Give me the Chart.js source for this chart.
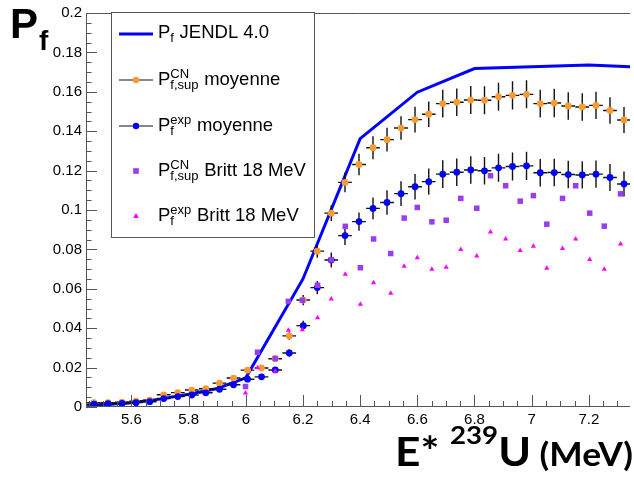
<!DOCTYPE html>
<html><head><meta charset="utf-8">
<script src="https://cdn.jsdelivr.net/npm/chart.js@4.4.1/dist/chart.umd.min.js"></script>
<style>html,body{margin:0;padding:0;background:#fff;overflow:hidden}canvas{display:block}</style>
</head><body>
<canvas id="c" width="634" height="477"></canvas>
<script>
// ---- data ----
const energies = [5.469,5.518,5.567,5.616,5.664,5.713,5.762,5.811,5.860,5.908,5.957,6.006,6.055,6.103,6.152,6.201,6.250,6.299,6.347,6.396,6.445,6.494,6.543,6.592,6.640,6.689,6.738,6.787,6.835,6.884,6.933,6.982,7.030,7.079,7.128,7.177,7.225,7.274,7.323];
const energyHalfBin = 0.024;
const pfCnMoyenne = [0.0022,0.0022,0.0024,0.0030,0.0035,0.0062,0.0073,0.0086,0.0093,0.0121,0.0147,0.0187,0.0198,0.0245,0.0361,0.0543,0.0791,0.0984,0.1140,0.1231,0.1316,0.1357,0.1416,0.1459,0.1486,0.1540,0.1547,0.1558,0.1557,0.1575,0.1582,0.1587,0.1540,0.1543,0.1528,0.1523,0.1531,0.1505,0.1457];
const pfCnMoyenneErr = [0.0004,0.0004,0.0004,0.0005,0.0005,0.0006,0.0006,0.0007,0.0007,0.0008,0.0009,0.0010,0.0011,0.0014,0.0019,0.0026,0.0033,0.0040,0.0050,0.0055,0.0058,0.0060,0.0060,0.0065,0.0065,0.0070,0.0070,0.0071,0.0071,0.0071,0.0072,0.0071,0.0070,0.0072,0.0070,0.0070,0.0069,0.0067,0.0066];
const pfExpMoyenne = [0.0014,0.0017,0.0018,0.0022,0.0027,0.0043,0.0053,0.0061,0.0072,0.0090,0.0113,0.0141,0.0153,0.0188,0.0274,0.0413,0.0606,0.0746,0.0870,0.0941,0.1008,0.1038,0.1083,0.1118,0.1144,0.1182,0.1192,0.1203,0.1199,0.1214,0.1221,0.1224,0.1189,0.1190,0.1180,0.1178,0.1182,0.1165,0.1132];
const pfExpMoyenneErr = [0.0004,0.0004,0.0004,0.0005,0.0005,0.0006,0.0006,0.0007,0.0007,0.0008,0.0009,0.0010,0.0011,0.0014,0.0019,0.0025,0.0034,0.0038,0.0048,0.0046,0.0055,0.0062,0.0063,0.0065,0.0067,0.0070,0.0070,0.0070,0.0070,0.0071,0.0071,0.0072,0.0070,0.0070,0.0070,0.0069,0.0069,0.0068,0.0064];
const brittEnergies = [5.999,6.041,6.103,6.149,6.198,6.251,6.299,6.348,6.401,6.447,6.507,6.554,6.600,6.651,6.701,6.752,6.808,6.856,6.909,6.960,7.006,7.053,7.108,7.154,7.203,7.254,7.311];
const pfCnBritt = [0.0104,0.0278,0.0246,0.0536,0.0542,0.0618,0.0747,0.0917,0.0707,0.0853,0.0779,0.0959,0.1013,0.0940,0.0948,0.1059,0.1009,0.1174,0.1123,0.1045,0.1073,0.0928,0.1059,0.1123,0.0984,0.0918,0.1082];
const pfExpBritt = [0.0071,0.0199,0.0181,0.0390,0.0392,0.0453,0.0548,0.0674,0.0522,0.0631,0.0578,0.0715,0.0757,0.0699,0.0710,0.0799,0.0766,0.0888,0.0853,0.0794,0.0816,0.0704,0.0805,0.0853,0.0749,0.0699,0.0828];
const jendlEnergies = [5.4,5.5,5.6,5.7,5.8,5.9,6.0,6.2,6.4,6.6,6.8,7.0,7.2,7.4];
const jendlPf = [0.0007,0.0012,0.0022,0.0040,0.0065,0.0094,0.0148,0.0650,0.1362,0.1598,0.1718,0.1727,0.1736,0.1724];
const xRange = [5.441, 7.344];
const yRange = [0, 0.2];
const xMajorStep = 0.2, yMajorStep = 0.02;

const pts = (xs, ys) => xs.map((x, i) => ({x, y: ys[i]}));
const fmt = v => String(+Number(v).toFixed(3));

const COL_ORANGE = '#f99a33', COL_BLUE = '#0000ff', COL_PURPLE = '#9a3cf0', COL_MAGENTA = '#ff00ff';
const SANS = '"Liberation Sans", Arial, Helvetica, sans-serif';

const errorBars = {
  id: 'errorBars',
  beforeDatasetDraw(chart, args) {
    const ds = chart.data.datasets[args.index];
    if (!ds.yErr) return;
    const xs = chart.scales.x, ys = chart.scales.y, ctx = chart.ctx, a = chart.chartArea;
    ctx.save();
    ctx.beginPath(); ctx.rect(a.left, a.top, a.right - a.left, a.bottom - a.top); ctx.clip();
    ctx.strokeStyle = '#111'; ctx.lineWidth = 1.4;
    ds.data.forEach((p, i) => {
      const px = xs.getPixelForValue(p.x), py = ys.getPixelForValue(p.y);
      const x0 = xs.getPixelForValue(p.x - ds.xErr), x1 = xs.getPixelForValue(p.x + ds.xErr);
      const y0 = ys.getPixelForValue(p.y - ds.yErr[i]), y1 = ys.getPixelForValue(p.y + ds.yErr[i]);
      ctx.beginPath();
      ctx.moveTo(x0, py); ctx.lineTo(x1, py);
      ctx.moveTo(px, y0); ctx.lineTo(px, y1);
      ctx.stroke();
    });
    ctx.restore();
  }
};

const frame = {
  id: 'frame',
  afterDatasetsDraw(chart) {
    const ctx = chart.ctx, a = chart.chartArea, xs = chart.scales.x, ys = chart.scales.y;
    ctx.save();
    ctx.strokeStyle = '#555'; ctx.lineWidth = 1;
    ctx.beginPath();
    ctx.moveTo(a.left + 0.5, a.bottom); ctx.lineTo(a.left + 0.5, a.top + 0.5); ctx.lineTo(a.right, a.top + 0.5);
    ctx.moveTo(a.left, a.bottom - 0.5); ctx.lineTo(a.right, a.bottom - 0.5);
    ctx.stroke();
    ctx.beginPath();
    const nY = Math.round((yRange[1] - yRange[0]) / (yMajorStep / 4));
    for (let i = 0; i <= nY; i++) {
      const v = yRange[0] + i * yMajorStep / 4;
      const y = Math.round(ys.getPixelForValue(v)) + 0.5;
      const len = (i % 4 === 0) ? 11 : 5.5;
      ctx.moveTo(a.left, y); ctx.lineTo(a.left + len, y);
    }
    const step = xMajorStep / 4;
    const i0 = Math.ceil(xRange[0] / step - 1e-6), i1 = Math.floor(xRange[1] / step + 1e-6);
    for (let i = i0; i <= i1; i++) {
      const v = i * step;
      const x = Math.round(xs.getPixelForValue(v)) + 0.5;
      const len = (i % 4 === 0) ? 12 : 6;
      ctx.moveTo(x, a.bottom); ctx.lineTo(x, a.bottom - len);
    }
    ctx.stroke();
    ctx.restore();
  }
};

function richText(ctx, x, base, main, sup, sub, rest, size, ssize) {
  ctx.fillStyle = '#000';
  ctx.textBaseline = 'alphabetic'; ctx.textAlign = 'left';
  ctx.font = size + 'px ' + SANS;
  ctx.fillText(main, x, base);
  let sx = x + ctx.measureText(main).width;
  ctx.font = ssize + 'px ' + SANS;
  let w = 0;
  if (sup) { ctx.fillText(sup, sx, base - 7); w = Math.max(w, ctx.measureText(sup).width); }
  if (sub) { ctx.fillText(sub, sx, base + 3.5); w = Math.max(w, ctx.measureText(sub).width); }
  ctx.font = size + 'px ' + SANS;
  ctx.fillText(rest, sx + w + 0.5, base);
}

const legendEntries = [
  {sym: 'line', color: COL_BLUE, sup: null, sub: 'f', rest: ' JENDL 4.0'},
  {sym: 'dot', color: COL_ORANGE, sup: 'CN', sub: 'f,sup', rest: ' moyenne'},
  {sym: 'dot', color: COL_BLUE, sup: 'exp', sub: 'f', rest: ' moyenne'},
  {sym: 'rect', color: COL_PURPLE, sup: 'CN', sub: 'f,sup', rest: ' Britt 18 MeV'},
  {sym: 'tri', color: COL_MAGENTA, sup: 'exp', sub: 'f', rest: ' Britt 18 MeV'}
];

const decorations = {
  id: 'decorations',
  afterDraw(chart) {
    const ctx = chart.ctx;
    ctx.save();
    const L = 111, T = 12, R = 314, B = 237;
    ctx.fillStyle = '#fff'; ctx.fillRect(L, T, R - L, B - T);
    ctx.strokeStyle = '#555'; ctx.lineWidth = 1;
    ctx.strokeRect(L + 0.5, T + 0.5, R - L, B - T);
    const rows = [34, 80, 126, 171, 216];
    legendEntries.forEach((e, i) => {
      const cy = rows[i], cx = 136;
      if (e.sym === 'line') {
        ctx.strokeStyle = e.color; ctx.lineWidth = 3;
        ctx.beginPath(); ctx.moveTo(119, cy); ctx.lineTo(153, cy); ctx.stroke();
      } else if (e.sym === 'dot') {
        ctx.strokeStyle = '#111'; ctx.lineWidth = 1.2;
        ctx.beginPath(); ctx.moveTo(119, cy); ctx.lineTo(153, cy); ctx.stroke();
        ctx.fillStyle = e.color; ctx.beginPath(); ctx.arc(cx, cy, 3.2, 0, Math.PI * 2); ctx.fill();
      } else if (e.sym === 'rect') {
        ctx.fillStyle = e.color; ctx.fillRect(cx - 2.8, cy - 2.8, 5.6, 5.6);
      } else {
        ctx.fillStyle = e.color; ctx.beginPath();
        ctx.moveTo(cx, cy - 3); ctx.lineTo(cx + 2.8, cy + 2); ctx.lineTo(cx - 2.8, cy + 2); ctx.closePath(); ctx.fill();
      }
      richText(ctx, 158, cy + 4 + (e.sup ? 1 : 0), 'P', e.sup, e.sub, e.rest, 18.5, 13);
    });
    // y title
    ctx.fillStyle = '#000'; ctx.textAlign = 'left'; ctx.textBaseline = 'alphabetic';
    ctx.font = 'bold 42px ' + SANS; ctx.fillText('P', 10, 38);
    ctx.font = 'bold 28px ' + SANS; ctx.fillText('f', 39, 50);
    // x title (stretched horizontally to the reference's extent 395..633)
    const parts = [
      {t: 'E* ', f: 'bold 40px Lato, "Open Sans", sans-serif', dy: 0},
      {t: '239', f: 'bold 25px Lato, "Open Sans", sans-serif', dy: -22},
      {t: 'U', f: 'bold 40px Lato, "Open Sans", sans-serif', dy: 0},
      {t: ' (MeV)', f: 'bold 32px Lato, "Open Sans", sans-serif', dy: 0}
    ];
    let total = 0;
    parts.forEach(p => { ctx.font = p.f; p.w = ctx.measureText(p.t).width; total += p.w; });
    const sx = 238 / total;
    ctx.save();
    ctx.translate(395, 466);
    ctx.scale(sx, 1);
    let x = 0;
    parts.forEach(p => { ctx.font = p.f; ctx.fillText(p.t, x, p.dy); x += p.w; });
    ctx.restore();
    ctx.restore();
  }
};

new Chart(document.getElementById('c'), {
  type: 'scatter',
  data: {
    datasets: [
      {label: 'Pf exp Britt 18 MeV', data: pts(brittEnergies, pfExpBritt), order: 0,
       pointStyle: 'triangle', pointRadius: 3, pointBorderWidth: 0, backgroundColor: COL_MAGENTA, borderColor: COL_MAGENTA},
      {label: 'Pf,sup CN Britt 18 MeV', data: pts(brittEnergies, pfCnBritt), order: 1,
       pointStyle: 'rect', pointRadius: 3.9, pointBorderWidth: 0, backgroundColor: COL_PURPLE, borderColor: COL_PURPLE},
      {label: 'Pf exp moyenne', data: pts(energies, pfExpMoyenne), order: 2, yErr: pfExpMoyenneErr, xErr: energyHalfBin,
       pointStyle: 'circle', pointRadius: 3.4, pointBorderWidth: 0, backgroundColor: COL_BLUE, borderColor: COL_BLUE},
      {label: 'Pf,sup CN moyenne', data: pts(energies, pfCnMoyenne), order: 3, yErr: pfCnMoyenneErr, xErr: energyHalfBin,
       pointStyle: 'circle', pointRadius: 3.4, pointBorderWidth: 0, backgroundColor: COL_ORANGE, borderColor: COL_ORANGE},
      {label: 'Pf JENDL 4.0', data: pts(jendlEnergies, jendlPf), order: 4, showLine: true, tension: 0,
       pointRadius: 0, borderWidth: 3, borderColor: COL_BLUE, backgroundColor: COL_BLUE}
    ]
  },
  options: {
    responsive: false, animation: false, devicePixelRatio: 1,
    layout: {padding: {top: 10, right: 0, left: 0, bottom: 0}},
    plugins: {legend: {display: false}, tooltip: {enabled: false}, title: {display: false}},
    scales: {
      x: {
        type: 'linear', min: xRange[0], max: xRange[1],
        grid: {display: false, drawTicks: false}, border: {display: false},
        ticks: {stepSize: xMajorStep, includeBounds: false, autoSkip: false, maxRotation: 0, padding: 4,
                color: '#000', font: {family: SANS, size: 15}, callback: v => fmt(v)},
        afterFit: s => { s.height = 70; }
      },
      y: {
        min: yRange[0], max: yRange[1],
        grid: {display: false, drawTicks: false}, border: {display: false},
        ticks: {stepSize: yMajorStep, padding: 4, color: '#000', font: {family: SANS, size: 15}, callback: v => fmt(v)},
        afterFit: s => { s.width = 86; }
      }
    }
  },
  plugins: [errorBars, frame, decorations]
});
</script>
</body></html>
